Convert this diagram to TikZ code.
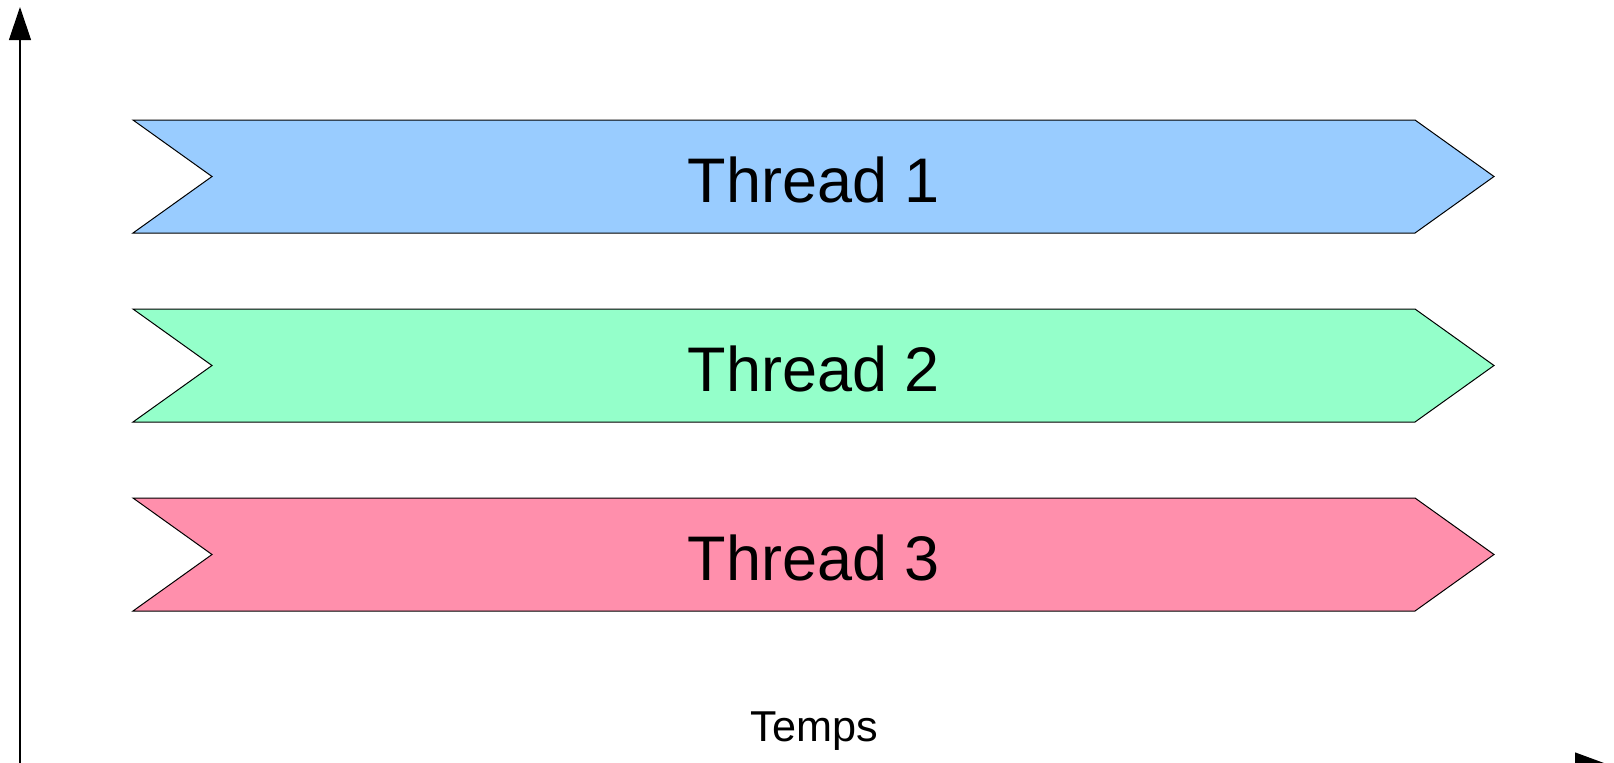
\documentclass[tikz,border=0pt]{standalone}
\usepackage{fontspec}
\setmainfont{Liberation Sans}
\usetikzlibrary{arrows.meta}
\definecolor{threadblue}{HTML}{99CCFF}
\definecolor{threadgreen}{HTML}{94FFCA}
\definecolor{threadpink}{HTML}{FF8FAC}
\tikzset{
    ribbon/.style={draw=black, line width=0.5pt},
    threadlabel/.style={anchor=base, inner sep=0pt, font=\fontsize{31.5}{38}\selectfont},
    axis/.style={line width=0.6pt, {Triangle[length=16.5pt,width=11pt]}-{Triangle[length=16.5pt,width=12pt]}}
}
\begin{document}
\begin{tikzpicture}[x=0.5pt, y=-0.5pt]
            \useasboundingbox (0,0) rectangle (1614,762);
            % axes
            \coordinate (top) at (20,7);
            \coordinate (origin) at (20,764.5);
            \coordinate (right) at (1608,764.5);
            \draw[axis] (top) -- (origin) -- (right);
            \foreach \i/\col in {1/threadblue,2/threadgreen,3/threadpink}
            {
                    \pgfmathsetmacro{\t}{120+(\i-1)*189}
                    \draw[ribbon, fill=\col] (133,\t) -- (1415,\t) -- (1494,\t+56.5) -- (1415,\t+113)
                        -- (133,\t+113) -- (212,\t+56.5) -- cycle;
                    \node[threadlabel] (thread\i) at (814,\t+82) {Thread \i};
            }
            \node[anchor=base, inner sep=0pt, font=\fontsize{21.6}{26}\selectfont] (temps) at (814,741) {Temps};
        \end{tikzpicture}
\end{document}
